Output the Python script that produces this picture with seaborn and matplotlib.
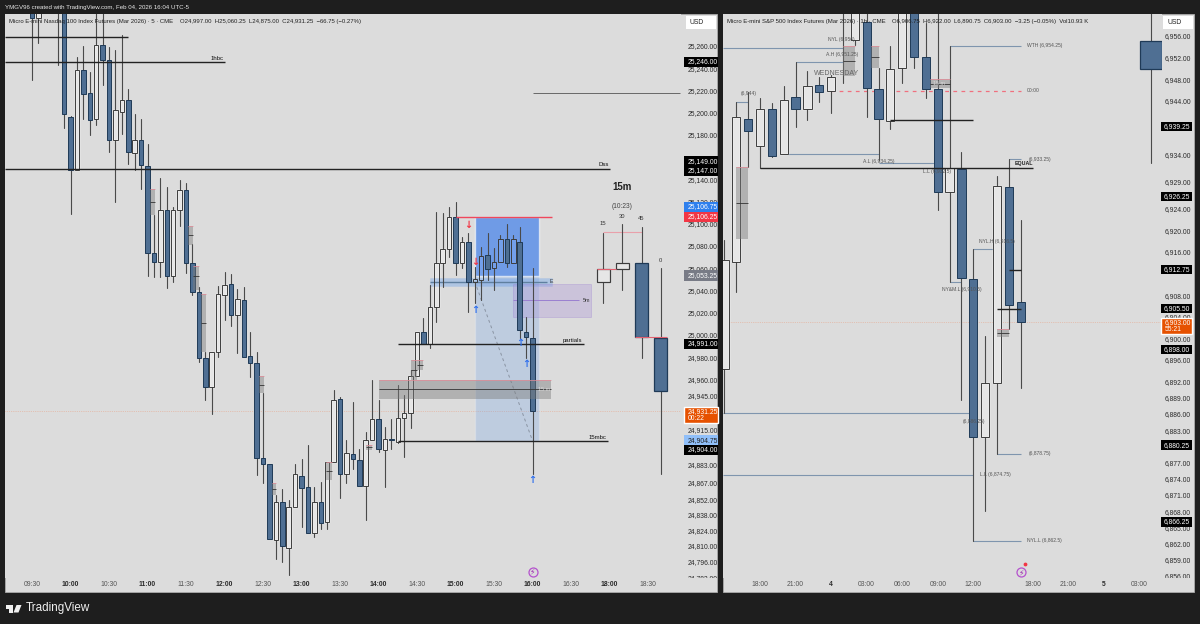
import matplotlib
matplotlib.use("Agg")
import matplotlib.pyplot as plt
from matplotlib.patches import Rectangle, Polygon
from matplotlib.transforms import Bbox, blended_transform_factory
import seaborn as sns
import pandas as pd
import numpy as np

# ---- left pane, Nasdaq 5m candles ----
nq_bar = [0, 1, 4, 5, 6, 7, 8, 9, 10, 11, 12, 13, 14, 15, 16, 17, 18, 19, 20, 21, 22, 23, 24, 25, 26, 27, 28, 29, 30, 31, 32, 33, 34, 35, 36, 37, 38, 39,
          40, 41, 42, 43, 44, 45, 46, 47, 48, 49, 50, 51, 52, 53, 54, 55, 56, 57, 58, 59, 60, 61, 62, 63, 64, 65, 66, 67, 68, 69, 70, 71, 72, 73, 74, 75, 76, 77, 78]
nq_open = [25320, 25285, 25300, 25310, 25196, 25148, 25238, 25218, 25194, 25261, 25247, 25175, 25201, 25211, 25164, 25175, 25152, 25074, 25066, 25112, 25053, 25112, 25130, 25065, 25039, 24979, 24953, 24985, 25036, 25046, 25018, 25031, 24981, 24975, 24889, 24884, 24815, 24850,
           24808, 24845, 24873, 24863, 24822, 24850, 24832, 24886, 24942, 24875, 24893, 24887, 24864, 24905, 24924, 24896, 24906, 24904, 24925, 24930, 24963, 25003, 24992, 25025, 25065, 25077, 25106, 25065, 25084, 25048, 25049, 25072, 25060, 25066, 25086, 25065, 25084, 25003, 24997]
nq_high = [25330, 25320, 25330, 25330, 25197, 25250, 25260, 25237, 25295, 25295, 25259, 25256, 25270, 25221, 25199, 25194, 25172, 25108, 25141, 25133, 25115, 25139, 25137, 25082, 25043, 24985, 24985, 25044, 25057, 25055, 25041, 25043, 25003, 24985, 24948, 24884, 24856, 24861,
           24851, 24884, 24888, 24901, 24863, 24868, 24886, 24950, 24944, 24905, 24940, 24897, 24913, 24959, 24941, 24917, 24924, 24955, 24946, 24968, 25003, 25015, 25045, 25111, 25110, 25115, 25120, 25088, 25092, 25061, 25079, 25092, 25078, 25090, 25100, 25090, 25097, 25016, 25060.25]
nq_low = [25229, 25263, 25243, 25186, 25109, 25148, 25194, 25180, 25189, 25225, 25165, 25120, 25181, 25154, 25148, 25131, 25053, 25052, 25052, 25042, 25048, 25098, 25056, 25036, 24976, 24941, 24929, 24980, 25013, 25008, 24984, 24980, 24962, 24874, 24867, 24816, 24798, 24796,
          24784, 24845, 24827, 24822, 24818, 24825, 24825, 24886, 24853, 24867, 24879, 24864, 24833, 24905, 24895, 24863, 24897, 24903, 24890, 24916, 24963, 24992, 24988, 25012, 25043, 25070, 25054, 25060, 25021, 25029, 25031, 25049, 25040, 25066, 25061, 25065, 24997, 24979, 24875]
nq_close = [25285, 25300, 25320, 25199, 25148, 25238, 25217, 25193, 25261, 25247, 25175, 25202, 25211, 25165, 25175, 25153, 25074, 25066, 25112, 25053, 25112, 25130, 25065, 25039, 24979, 24953, 24985, 25037, 25045, 25018, 25032, 24980, 24975, 24889, 24884, 24816, 24850, 24810,
            24845, 24875, 24862, 24822, 24850, 24831, 24886, 24941, 24875, 24894, 24888, 24864, 24905, 24924, 24897, 24906, 24905, 24925, 24930, 24963, 25003, 24992, 25025, 25065, 25077, 25106, 25065, 25084, 25048, 25050, 25071, 25059, 25066, 25086, 25065, 25086, 25004, 24998, 24931.25]

# hand drawn 15m candles on the right of the left pane
m15_bar = [89, 92, 95, 98]
m15_open = [25048, 25059, 25065, 24997]
m15_high = [25092, 25100, 25097, 25060.25]
m15_low = [25029, 25040, 24979, 24875]
m15_close = [25059, 25065, 24998, 24949.5]

nq_ticks = [25260, 25240, 25220, 25200, 25180, 25160, 25140, 25120, 25100, 25080, 25060, 25040, 25020, 25000, 24980, 24960, 24945,
            24915, 24883, 24867, 24852, 24838, 24824, 24810, 24796, 24782]
nq_time_pos = [0, 6, 12, 18, 24, 30, 36, 42, 48, 54, 60, 66, 72, 78, 84, 90, 96]
nq_time_lab = ["09:30", "10:00", "10:30", "11:00", "11:30", "12:00", "12:30", "13:00", "13:30", "14:00", "14:30", "15:00", "15:30", "16:00", "16:30", "18:00", "18:30"]
nq_time_bold = ["10:00", "11:00", "12:00", "13:00", "14:00", "15:00", "16:00", "18:00"]

# zones: gray fvg style boxes
nq_zone_start = [18.4, 24.3, 25.1, 26.3, 35.4, 37.4, 45.8, 52, 59, 60, 54.07]
nq_zone_end = [19.2, 25.1, 26, 27.1, 36.2, 38, 46.8, 53, 60, 61, 80.9]
nq_zone_top = [25131, 25098, 25062, 25037, 24963, 24867, 24886, 24901, 24977, 24977, 24959.4]
nq_zone_bot = [25108, 25081, 25040, 24985, 24948, 24856, 24869, 24896, 24959, 24968, 24942.3]
nq_zone_mid = [25119.6, 25090, 25053, 25011, 24955, 24861, 24877.5, 24899, 24968, 24973, 24951]

# black levels: price, from bar, to bar
nq_level_price = [25268, 25245.6, 25149, 24991.8, 24904.5]
nq_level_from = [-4.2, -4.2, -4.2, 57, 57]
nq_level_to = [15, 30, 90, 86, 89.8]

up_bar = [69, 76, 77, 78]
up_price = [25022.4, 24992.7, 24973.8, 24869.4]
down_bar = [68, 69]
down_price = [25099, 25065.6]

# price tags: text, position, box colour, text colour
nq_tag_text = ["25,246.00", "25,149.00", "25,147.00", "25,106.75", "25,106.25", "25,053.25", "24,991.00", "24,904.75", "24,904.00"]
nq_tag_pos = [25245.6, 25156, 25147.5, 25115.1, 25106.1, 25053.3, 24991.8, 24905, 24896.4]
nq_tag_bg = ["black", "black", "black", "#2f80ed", "#f23645", "#787b86", "black", "#90bff9", "black"]
nq_tag_fg = ["white", "white", "white", "white", "white", "white", "white", "#222222", "white"]

# ---- right pane, S&P 1h candles ----
es_bar = [-3, -2, -1, 0, 1, 2, 3, 4, 5, 6, 7, 8, 9, 10, 11, 12, 13, 14, 15, 16, 17, 18, 19, 20, 21, 22]
es_open = [6894.25, 6914.15, 6940.6, 6935.6, 6942.5, 6934.2, 6944.7, 6942.5, 6946.9, 6945.8, 6965, 6955.3, 6958.6, 6946.2, 6940.3, 6950, 6968, 6952.1, 6946.2, 6927.1, 6931.4, 6911, 6881.7, 6891.75, 6928, 6906.75]
es_high = [6918.25, 6943.8, 6945.6, 6944.5, 6943.6, 6946.7, 6951.2, 6949.5, 6948.4, 6948.8, 6970, 6965, 6965, 6950, 6954.1, 6970, 6970, 6958.4, 6970, 6954.15, 6934.5, 6916.55, 6900.45, 6930.1, 6933.25, 6922]
es_low = [6886.25, 6908.6, 6931.7, 6931.6, 6933.6, 6934.2, 6939.1, 6940.4, 6943.8, 6941.7, 6947.3, 6954.3, 6941, 6933, 6938.8, 6947.3, 6950, 6944.5, 6923.8, 6910.4, 6888.6, 6862.5, 6868, 6878.6, 6901.75, 6890.75]
es_close = [6914.5, 6941, 6938.4, 6942.5, 6933.8, 6944.2, 6942.5, 6946.7, 6945.6, 6948.4, 6968, 6965, 6946.4, 6940.6, 6949.9, 6968, 6952.1, 6946.2, 6927.1, 6931.55, 6911.2, 6881.7, 6891.75, 6928.2, 6906.2, 6903]

# single higher timeframe candle at the far right
big_bar = [33]
big_open = [6955.1]
big_high = [6970]
big_low = [6932.5]
big_close = [6949.9]

es_ticks = [6956, 6952, 6948, 6944, 6934, 6929, 6924, 6920, 6916, 6908, 6904, 6900, 6896, 6892, 6889, 6886, 6883, 6877, 6874, 6871, 6868, 6865, 6862, 6859, 6856]
es_time_pos = [0, 3, 6, 9, 12, 15, 18, 23, 26, 29, 32]
es_time_lab = ["18:00", "21:00", "4", "03:00", "06:00", "09:00", "12:00", "18:00", "21:00", "5", "03:00"]
es_time_bold = ["4", "5"]

es_zone_start = [-2.03, 7, 9.4, 20, 14.35]
es_zone_end = [-1, 8, 10, 21, 16]
es_zone_top = [6931.7, 6954.15, 6954.15, 6901.75, 6948]
es_zone_bot = [6918.4, 6948.6, 6950, 6900.25, 6946.4]
es_zone_mid = [6925.1, 6951.4, 6952.1, 6901, 6947.2]

# thin blue swing lines
es_swing_price = [6953.8, 6951.2, 6954.15, 6943.8, 6934.15, 6932.5, 6933.25, 6916.55, 6910.45, 6886.2, 6874.75, 6878.6, 6862.5]
es_swing_from = [-3.1, 3, 16, -2, 2, 10, 21, 18, 16, -3.1, -3.1, 20, 18]
es_swing_to = [7, 7, 22, -1, 10, 15, 22, 20, 17, 18, 18, 22, 22]

es_level_price = [6931.5, 6940.4, 6905.45, 6912.75]
es_level_from = [0, 11, 20, 21]
es_level_to = [23, 18, 22, 22]

es_note_text = ["NYL (6,956)", "A.H (6,951.25)", "(6,944)", "A.L (6,934.25)", "L.L (6,932.5)", "(6,933.25)", "WTH (6,954.25)", "00:00",
                "NYL.H (6,916.5)", "NY&M.L (6,910.5)", "(6,886.25)", "L.L (6,874.75)", "(6,878.75)", "NYL.L (6,862.5)"]
es_note_bar = [5.74, 5.57, -1.6, 8.69, 13.75, 22.7, 22.5, 22.5, 18.5, 15.36, 17.1, 18.6, 22.7, 22.5]
es_note_price = [6955.4, 6952.5, 6945.4, 6932.7, 6931, 6933.2, 6954.15, 6946, 6918, 6909, 6884.7, 6874.75, 6878.6, 6862.5]

es_tag_text = ["6,939.25", "6,926.25", "6,912.75", "6,905.50", "6,898.00", "6,880.25", "6,866.25"]
es_tag_pos = [6939.25, 6926.25, 6912.75, 6905.5, 6898, 6880.25, 6866.0]

# colours
DARK = "#1e1e1e"
PANE = "#dcdcdc"
WICK = "#4a4a4a"
DOWN = "#4f6f93"
DOWN_EDGE = "#1f3a57"
UP = "#e6e6e6"
UP_EDGE = "#3c3c3c"
SWING = "#7f95ae"
TEXT = "#2a2a2a"
NOTE = "#555555"
W, H = 1200, 624


def draw_candles(ax, bar, o, h, l, c, width=0.7, lw=0.7):
    bar = np.array(bar)
    o, h, l, c = [np.array(v, dtype=float) for v in (o, h, l, c)]
    top, bot = np.maximum(o, c), np.minimum(o, c)
    # upper and lower wick as two short lines, so they stay out of the body
    wicks = pd.DataFrame({
        "unit": np.concatenate([np.arange(len(bar)), np.arange(len(bar)), np.arange(len(bar)) + len(bar), np.arange(len(bar)) + len(bar)]),
        "bar": np.concatenate([bar, bar, bar, bar]),
        "price": np.concatenate([h, top, bot, l]),
    })
    sns.lineplot(data=wicks, x="bar", y="price", units="unit", estimator=None, sort=False,
                 color=WICK, linewidth=0.8, legend=False, ax=ax, zorder=3.6)
    is_up = c >= o
    ax.bar(bar[is_up], (c - o)[is_up], bottom=o[is_up], width=width, color=UP, zorder=3)
    ax.bar(bar[is_up], (c - o)[is_up], bottom=o[is_up], width=width, fill=False, edgecolor=UP_EDGE, linewidth=lw, zorder=3.7)
    ax.bar(bar[~is_up], (o - c)[~is_up], bottom=c[~is_up], width=width, color=DOWN, edgecolor=DOWN_EDGE, linewidth=lw, zorder=4)


def draw_zones(ax, start, end, top, bot, mid):
    for s, e, t, b, m in zip(start, end, top, bot, mid):
        ax.add_patch(Rectangle((s, b), e - s, t - b, facecolor="#7d7d7d", alpha=0.45, edgecolor="none", zorder=4.2))
        ax.hlines(t, s, e, color="#e58a96", linewidth=0.5, zorder=4.2)
        ax.hlines(m, s, e, color="#333333", linewidth=0.6, zorder=4.2)


def price_tag(ax, x0, w, text, pos, h, bg="black", fg="white"):
    tr = blended_transform_factory(ax.transAxes, ax.transData)
    ax.add_patch(Rectangle((x0, pos - h / 2), w, h, transform=tr, facecolor=bg, edgecolor="none", clip_on=False, zorder=8))
    ax.text(x0 + w * 0.1, pos, text, transform=tr, color=fg, fontsize=4.9, va="center", ha="left", clip_on=False, zorder=9)


def style_pane(ax, ticks, fmt_pad, pos, labels, bold):
    ax.set_facecolor(PANE)
    sns.despine(ax=ax, left=True, bottom=True)
    ax.set_xlabel("")
    ax.set_ylabel("")
    ax.yaxis.tick_right()
    ax.set_yticks(ticks)
    ax.set_yticklabels([f"{t:,.2f}" for t in ticks])
    ax.tick_params(axis="y", length=0, pad=fmt_pad, labelsize=4.9, labelcolor=TEXT)
    ax.set_xticks(pos)
    ax.set_xticklabels(labels)
    ax.tick_params(axis="x", length=0, pad=2.5, labelsize=4.9, labelcolor="#555555")
    for lab in ax.get_xticklabels():
        if lab.get_text() in bold:
            lab.set_fontweight("bold")
            lab.set_color(TEXT)
    # the lowest price label is cut by the time strip
    cut = Bbox([[0, H - 578], [W, H]])
    for lab in ax.get_yticklabels():
        lab.set_clip_box(cut)
        lab.set_clip_on(True)


def bolt(ax, x, y):
    ax.scatter([x], [y], s=42, facecolor=PANE, edgecolor="#b452cd", linewidth=0.9, zorder=7, clip_on=False)
    ax.text(x, y, "\u26a1", color="#9c27b0", fontsize=5.5, ha="center", va="center", family="DejaVu Sans", zorder=8)


sns.set_theme(style="white")
plt.rcParams["font.family"] = ["Liberation Sans", "DejaVu Sans"]

fig = plt.figure(figsize=(W / 100, H / 100), dpi=100, facecolor=DARK)


def pane_axes(x0, x1, y0, y1):
    return fig.add_axes([x0 / W, 1 - y1 / H, (x1 - x0) / W, (y1 - y0) / H])


for x0, x1 in [(5, 717), (723, 1194)]:
    fig.patches.append(Rectangle((x0 / W, 1 - 592 / H), (x1 - x0) / W, 578 / H, transform=fig.transFigure,
                                 facecolor=PANE, edgecolor="#ababab", linewidth=0.6, zorder=-1, figure=fig))

# ---- left pane ----
ax = pane_axes(5, 681, 14, 578)
draw_candles(ax, nq_bar, nq_open, nq_high, nq_low, nq_close)
draw_candles(ax, m15_bar, m15_open, m15_high, m15_low, m15_close, width=2.0, lw=0.9)
draw_zones(ax, nq_zone_start, nq_zone_end, nq_zone_top, nq_zone_bot, nq_zone_mid)

# long position drawing
ax.add_patch(Rectangle((69, 25053), 10, 53.1, facecolor="#2670ed", alpha=0.6, zorder=3.3))
ax.add_patch(Rectangle((69, 24904.5), 10, 148.5, facecolor="#4a90f0", alpha=0.2, zorder=3.3))
ax.add_patch(Rectangle((62, 25044), 19, 7.2, facecolor="#4a90f0", alpha=0.3, edgecolor="#8fb2df", linewidth=0.4, zorder=3.3))
ax.hlines(25048, 62, 80.3, color="#5f7f9f", linewidth=1.0, zorder=3.4)
ax.hlines(25106.25, 66, 81, color="#f0475c", linewidth=1.0, zorder=5)
ax.plot([69, 78], [25048, 24904.75], color="#8a94a3", linewidth=0.7, linestyle=(0, (3, 3)), zorder=3.5)
ax.add_patch(Rectangle((75, 25016.1), 12.1, 29.7, facecolor="#a58ad8", alpha=0.3, edgecolor="#9a7fd0", linewidth=0.7, zorder=3.4))
ax.hlines(25031, 75, 85.2, color="#9a7fd0", linewidth=0.7, zorder=3.4)

# 15m candle joins
ax.hlines(25092.6, 89, 95, color="#e9a0aa", linewidth=0.8, zorder=2)
ax.hlines(25059, 88, 91, color="#e2606f", linewidth=0.8, zorder=4.1)
ax.hlines(24998, 94, 99, color="#e2606f", linewidth=0.8, zorder=4.1)

ax.hlines(nq_level_price, nq_level_from, nq_level_to, color="#222222", linewidth=1.0, zorder=6)
ax.hlines(25217.7, 78, 101, color="#555555", linewidth=0.6, zorder=6)
ax.axhline(24931.25, color="#e8a58a", linewidth=0.5, linestyle=":", zorder=1)

for t, bx_, py in [("1hbc", 28.8, 25249), ("Dss", 89.1, 25153), ("partials", 84.2, 24995), ("15mbc", 88.2, 24908)]:
    ax.text(bx_, py, t, fontsize=4.3, color="#111111", ha="center", va="center", zorder=7)
ax.text(80.6, 25048, "E", fontsize=3.8, color="#333333", ha="left", va="center", zorder=7)
ax.text(85.8, 25031, "5m", fontsize=3.8, color="#333333", ha="left", va="center", zorder=7)
ax.text(78.8, 24951, "15 m", fontsize=4, color="#d8d8d8", ha="left", va="center", zorder=7)
ax.text(92, 25133, "15m", fontsize=7, color="#222222", ha="center", va="center", fontweight="bold", zorder=7)
ax.text(92, 25116, "(10:23)", fontsize=4.8, color="#444444", ha="center", va="center", zorder=7)
for t, bx_, py in [("15", 89, 25100), ("30", 92, 25107), ("45", 95, 25105), ("0", 98, 25067)]:
    ax.text(bx_, py, t, fontsize=4.2, color="#333333", ha="center", va="center", zorder=7)
for bx_, py in zip(up_bar, up_price):
    ax.text(bx_, py, "\u2191", fontsize=7, color="#2f6fed", ha="center", va="center", fontweight="bold", family="DejaVu Sans", zorder=7)
for bx_, py in zip(down_bar, down_price):
    ax.text(bx_, py, "\u2193", fontsize=7, color="#f23645", ha="center", va="center", fontweight="bold", family="DejaVu Sans", zorder=7)
bolt(ax, 78, 24786.6)

ax.set_xlim((5 - 32) / 6.417, (681 - 32) / 6.417)
ax.set_ylim(25301.4 - 0.9 * 578, 25301.4 - 0.9 * 14)
style_pane(ax, nq_ticks, 5, nq_time_pos, nq_time_lab, nq_time_bold)

for t, p, bg, fg in zip(nq_tag_text, nq_tag_pos, nq_tag_bg, nq_tag_fg):
    price_tag(ax, 679 / 676, 34 / 676, t, p, 9.4, bg, fg)
tr = blended_transform_factory(ax.transAxes, ax.transData)
ax.add_patch(Rectangle((679 / 676, 24920.7), 34 / 676, 14.4, transform=tr, facecolor="#e65100", clip_on=False, zorder=8))
ax.text(682.4 / 676, 24927.9, "24,931.25\n00:22", transform=tr, color="white", fontsize=4.9, va="center", ha="left", linespacing=1.1, clip_on=False, zorder=9)

# ---- right pane ----
bx = pane_axes(723, 1162, 14, 578)
draw_candles(bx, es_bar, es_open, es_high, es_low, es_close)
draw_candles(bx, big_bar, big_open, big_high, big_low, big_close, width=1.86, lw=0.9)
draw_zones(bx, es_zone_start, es_zone_end, es_zone_top, es_zone_bot, es_zone_mid)

bx.hlines(es_swing_price, es_swing_from, es_swing_to, color=SWING, linewidth=0.8, zorder=2)
bx.hlines(es_level_price, es_level_from, es_level_to, color="#222222", linewidth=1.0, zorder=6)
bx.hlines(6945.9, 6, 22, color="#f0707e", linewidth=0.9, linestyle=(0, (3, 3.5)), zorder=2)
bx.axhline(6903, color="#e8a58a", linewidth=0.5, linestyle=":", zorder=1)

for t, n, p in zip(es_note_text, es_note_bar, es_note_price):
    bx.text(n, p, t, fontsize=3.6, color=NOTE, ha="left", va="center", zorder=7)
bx.text(4.56, 6949, "WEDNESDAY", fontsize=5, color="#666666", ha="left", va="center", zorder=7)
bx.text(21.5, 6932.3, "EQUAL", fontsize=3.8, color="#222222", ha="left", va="center", fontweight="bold", zorder=7)
bx.text(15.1, 6947.2, "15 m", fontsize=3.8, color="#d8d8d8", ha="center", va="center", zorder=7)
bolt(bx, 22, 6856.7)
bx.scatter([22.4], [6858.2], s=3, color="#f23645", zorder=9, clip_on=False)

bx.set_xlim((723 - 760) / 11.85, (1162 - 760) / 11.85)
bx.set_ylim(6962.667 - 578 / 5.4, 6962.667 - 14 / 5.4)
style_pane(bx, es_ticks, 2, es_time_pos, es_time_lab, es_time_bold)

for t, p in zip(es_tag_text, es_tag_pos):
    price_tag(bx, 438 / 439, 31 / 439, t, p, 9.4 / 5.4)
tr = blended_transform_factory(bx.transAxes, bx.transData)
bx.add_patch(Rectangle((438 / 439, 6902.3 - 1.5), 31 / 439, 3.0, transform=tr, facecolor="#e65100", clip_on=False, zorder=8))
bx.text(441.5 / 439, 6902.3, "6,903.00\n55:21", transform=tr, color="white", fontsize=4.9, va="center", ha="left", linespacing=1.1, clip_on=False, zorder=9)

# ---- chrome ----
fig.text(5 / W, 1 - 7.5 / H, "YMGV96 created with TradingView.com, Feb 04, 2026 16:04 UTC-5", color="#e8e8e8", fontsize=4.46, va="center")
fig.text(9 / W, 1 - 21.5 / H, "Micro E-mini Nasdaq 100 Index Futures (Mar 2026) \u00b7 5 \u00b7 CME", color="#222222", fontsize=4.35, va="center")
fig.text(180 / W, 1 - 21.5 / H, "O24,997.00  H25,060.25  L24,875.00  C24,931.25  \u221266.75 (\u22120.27%)", color="#222222", fontsize=4.33, va="center")
fig.text(727 / W, 1 - 21.5 / H, "Micro E-mini S&P 500 Index Futures (Mar 2026) \u00b7 1h \u00b7 CME", color="#222222", fontsize=4.35, va="center")
fig.text(892 / W, 1 - 21.5 / H, "O6,906.75  H6,922.00  L6,890.75  C6,903.00  \u22123.25 (\u22120.05%)  Vol10.93 K", color="#222222", fontsize=4.33, va="center")
for x0, x1 in [(686, 716), (1163, 1193)]:
    fig.text((x0 + 4) / W, 1 - 23 / H, "USD", color="#222222", fontsize=4.9, va="center", zorder=6)
    fig.patches.append(Rectangle((x0 / W, 1 - 29 / H), (x1 - x0) / W, 13 / H, transform=fig.transFigure,
                                 facecolor="white", edgecolor="none", zorder=5, figure=fig))

fig.text(26 / W, 1 - 608 / H, "TradingView", color="#f0f0f0", fontsize=8.4, va="center")
logo = [[(6, 605), (13, 605), (13, 612.5), (9, 612.5), (9, 609), (6, 609)], [(16.5, 605), (21.5, 605), (18.5, 612.5), (13.5, 612.5)]]
for pts in logo:
    fig.patches.append(Polygon([(x / W, 1 - y / H) for x, y in pts], closed=True, transform=fig.transFigure,
                               facecolor="#f0f0f0", edgecolor="none", zorder=5, figure=fig))

fig.savefig("out.png", dpi=100, facecolor=DARK)
